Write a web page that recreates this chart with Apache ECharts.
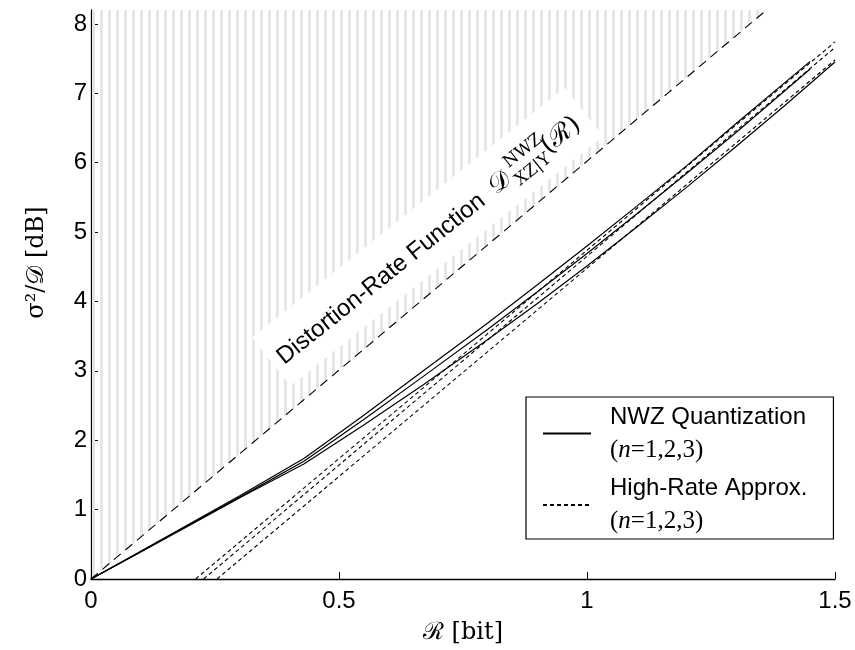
<!DOCTYPE html>
<html lang="en">
<head>
<meta charset="utf-8">
<title>NWZ Quantization</title>
<script src="https://cdn.jsdelivr.net/npm/echarts@6/dist/echarts.min.js"></script>
<style>
  html, body { margin: 0; padding: 0; background: #fff; }
  #main { width: 855px; height: 650px; }
</style>
</head>
<body>
<div id="main"></div>
<script>
// --- data ---
var xTicks = [0, 0.5, 1, 1.5];
var yTicks = [0, 1, 2, 3, 4, 5, 6, 7, 8];

// distortion-rate function (dashed, ~6.02 dB/bit), ends where it leaves the plot
var drFunc = [[0, 0], [1.362, 8.2]];

// NWZ quantization, n = 1, 2, 3 (solid)
var nwz1 = [[0, 0], [0.1, 0.39], [0.2, 0.78], [0.3, 1.17], [0.43, 1.66], [0.55, 2.22], [0.67, 2.8],
            [0.8, 3.45], [0.9, 3.97], [1.0, 4.51], [1.1, 5.07], [1.2, 5.64], [1.3, 6.23], [1.4, 6.83], [1.5, 7.45]];
var nwz2 = [[0, 0], [0.1, 0.39], [0.2, 0.79], [0.3, 1.18], [0.43, 1.7], [0.55, 2.3], [0.67, 2.92],
            [0.8, 3.6], [0.9, 4.14], [1.0, 4.69], [1.1, 5.26], [1.2, 5.84], [1.3, 6.43], [1.45, 7.35]];
var nwz3 = [[0, 0], [0.1, 0.4], [0.2, 0.8], [0.3, 1.2], [0.43, 1.74], [0.55, 2.36], [0.67, 3.0],
            [0.8, 3.69], [0.9, 4.24], [1.0, 4.8], [1.1, 5.37], [1.2, 5.95], [1.3, 6.56], [1.45, 7.46]];

// high-rate approximations, n = 1, 2, 3 (short dashes)
var hr1 = [[0.254, 0], [1.5, 7.48]];
var hr2 = [[0.227, 0], [1.5, 7.66]];
var hr3 = [[0.211, 0], [1.5, 7.74]];

// where the rotated annotation starts (data coords)
var labelAnchor = [0.39, 3.08];

var SANS = '"Liberation Sans", Arial, sans-serif';
var SERIF = '"DejaVu Serif", "Liberation Serif", serif';

// vertical stripe pattern for the unreachable region
var stripe = document.createElement('canvas');
stripe.width = 8; stripe.height = 8;
var sctx = stripe.getContext('2d');
sctx.fillStyle = '#e6e6e6';
sctx.fillRect(4, 0, 3, 8);

var chart = echarts.init(document.getElementById('main'), null, { renderer: 'canvas' });

function solid(data) {
    return {
        name: 'NWZ Quantization', type: 'line', data: data, symbol: 'none',
        itemStyle: { color: '#000' },
        lineStyle: { color: '#000', width: 1.2 }, z: 4, silent: true
    };
}
function hr(data) {
    return {
        name: 'High-Rate Approx.', type: 'line', data: data, symbol: 'none',
        itemStyle: { color: '#000' },
        lineStyle: { color: '#000', width: 1.1, type: [4, 3] }, z: 3, silent: true
    };
}

var option = {
    animation: false,
    grid: { left: 91, right: 20, top: 10, bottom: 71 },
    xAxis: {
        type: 'value', min: 0, max: 1.5, interval: 0.5,
        name: 'ℛ [bit]', nameLocation: 'middle', nameGap: 42,
        nameTextStyle: { fontFamily: SERIF, fontSize: 24, color: '#000' },
        axisLine: { lineStyle: { color: '#000', width: 1.3 } },
        axisTick: { inside: true, length: 7, lineStyle: { color: '#000' } },
        axisLabel: { color: '#000', fontFamily: SANS, fontSize: 24, margin: 10,
            formatter: function (v) { return xTicks.indexOf(v) >= 0 ? String(v) : ''; } },
        splitLine: { show: false }
    },
    yAxis: {
        type: 'value', min: 0, max: 8.2, interval: 1,
        name: 'σ²/𝒟 [dB]', nameLocation: 'middle', nameGap: 42, nameRotate: 90,
        nameTextStyle: { fontFamily: SERIF, fontSize: 24, color: '#000', padding: [0, 0, 0, 64] },
        axisLine: { lineStyle: { color: '#000', width: 1.3 } },
        axisTick: { inside: true, length: 7, lineStyle: { color: '#000' } },
        axisLabel: { color: '#000', fontFamily: SANS, fontSize: 24, margin: 4, showMaxLabel: false,
            formatter: function (v) { return yTicks.indexOf(v) >= 0 ? String(v) : ''; } },
        splitLine: { show: false }
    },
    legend: {
        data: ['NWZ Quantization', 'High-Rate Approx.'],
        orient: 'vertical', left: 526, top: 397,
        padding: [8, 26, 5, 16], itemGap: 14,
        itemWidth: 48, itemHeight: 14,
        backgroundColor: '#fff', borderColor: '#000', borderWidth: 1.2, borderRadius: 0,
        selectedMode: false,
        itemStyle: { color: 'transparent', borderColor: 'transparent', borderWidth: 0, opacity: 0 },
        textStyle: {
            padding: [0, 0, 0, 14],
            rich: {
                s: { fontFamily: SANS, fontSize: 24, lineHeight: 33, color: '#000' },
                t: { fontFamily: '"Liberation Serif", serif', fontSize: 25, lineHeight: 33, color: '#000' },
                ti: { fontFamily: '"Liberation Serif", serif', fontStyle: 'italic', fontSize: 25, lineHeight: 33, color: '#000' }
            }
        },
        formatter: function (name) {
            return '{s|' + name + '}\n{t|(}{ti|n}{t|=1,2,3)}';
        }
    },
    series: [
        {
            name: 'Distortion-Rate', type: 'line', data: drFunc, symbol: 'none', silent: true,
            lineStyle: { color: '#000', width: 1.1, type: [9, 6] },
            areaStyle: { origin: 'end', color: { image: stripe, repeat: 'repeat' }, opacity: 1 },
            z: 1
        },
        solid(nwz1), solid(nwz2), solid(nwz3),
        hr(hr1), hr(hr2), hr(hr3)
    ]
};
chart.setOption(option);

// rotated annotation along the distortion-rate line (text sits a little flatter than the line)
var p0 = chart.convertToPixel({ seriesIndex: 0 }, drFunc[0]);
var p1 = chart.convertToPixel({ seriesIndex: 0 }, drFunc[1]);
var ang = Math.atan2(p0[1] - p1[1], p1[0] - p0[0]) - 1.5 * Math.PI / 180;
var pa = chart.convertToPixel({ seriesIndex: 0 }, labelAnchor);

function txt(str, x, y, font) {
    return { type: 'text', x: x, y: y, z: 20,
        style: { text: str, font: font, fill: '#000', textAlign: 'left', textVerticalAlign: 'bottom' } };
}

chart.setOption({
    graphic: [{
        type: 'group', x: pa[0], y: pa[1], rotation: ang, z: 20, silent: true,
        children: [
            { type: 'rect', z: 19, shape: { x: -8, y: -42, width: 400, height: 62 }, style: { fill: '#fff' } },
            txt('Distortion-Rate Function', 0, 5, '24px ' + SANS),
            txt('𝒟', 272, 5, '26px ' + SERIF),
            txt('NWZ', 298, -10, '17px ' + SERIF),
            txt('XZ|Y', 296, 11, '17px ' + SERIF),
            txt('(ℛ)', 338, 6, '26px ' + SERIF)
        ]
    }]
});

window.addEventListener('resize', chart.resize);
</script>
</body>
</html>
